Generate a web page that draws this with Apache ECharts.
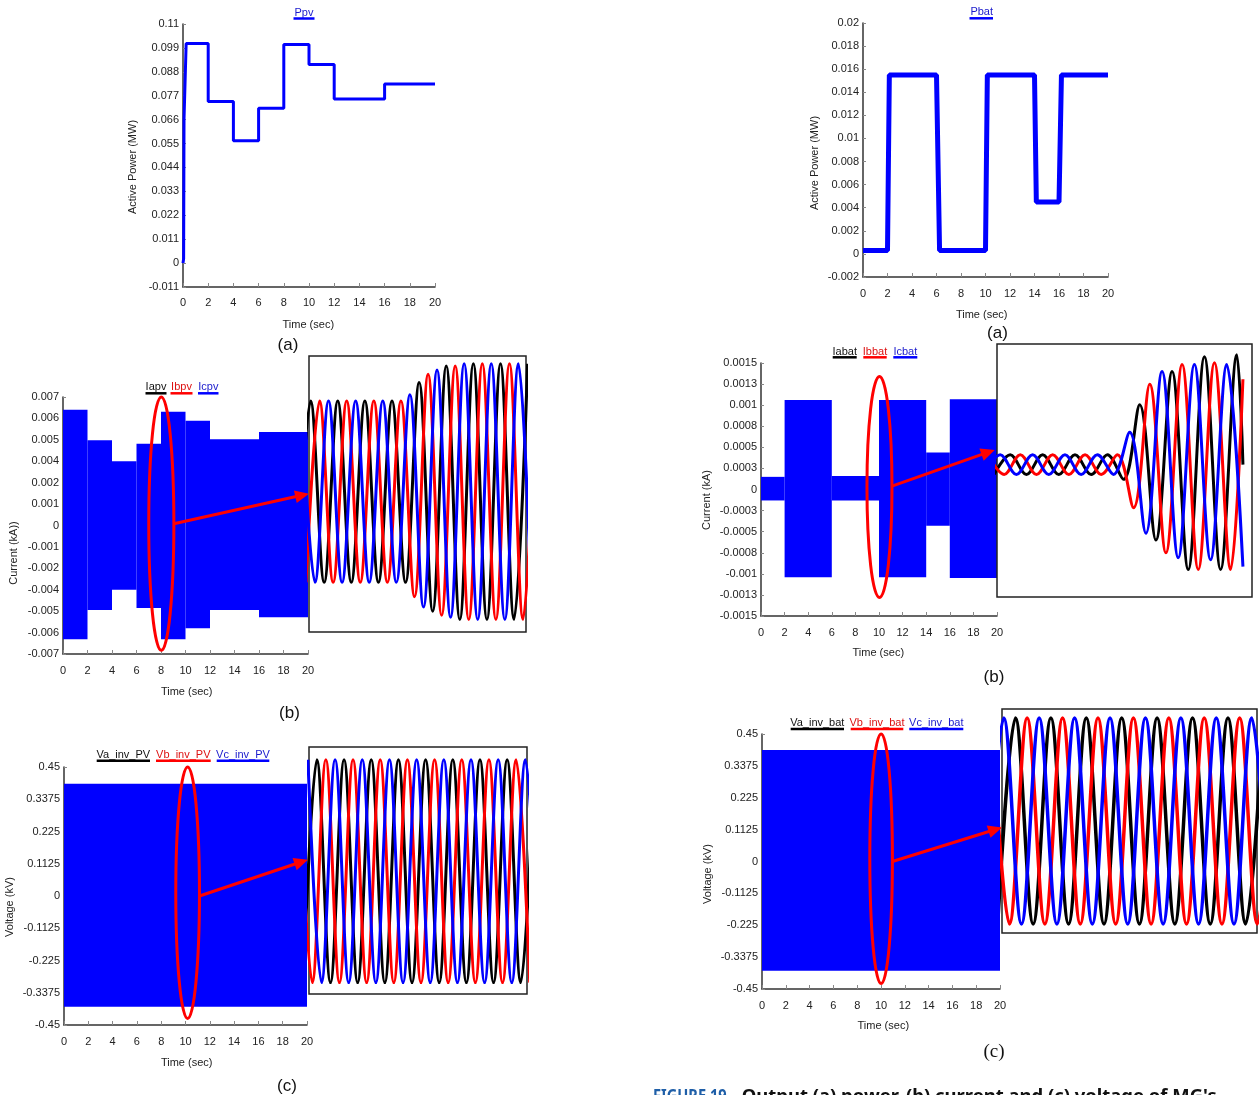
<!DOCTYPE html>
<html><head><meta charset="utf-8">
<script src="https://cdn.jsdelivr.net/npm/echarts@6/dist/echarts.min.js"></script>
<style>html,body{margin:0;padding:0;background:#fff;}#chart{width:1259px;height:1095px;}</style>
</head><body><div id="chart"></div>
<script>
// ================= DATA =================
const timeTickLabels = ['0','2','4','6','8','10','12','14','16','18','20'];

// (a) PV active power
const ppvTime  = [0, 0.05, 0.08, 0.25, 2, 2, 4, 4, 6, 6, 8, 8, 10, 10, 12, 12, 16, 16, 20];
const ppvValue = [0, 0.002, 0.066, 0.101, 0.101, 0.0744, 0.0744, 0.0563, 0.0563, 0.0712, 0.0712, 0.1006, 0.1006, 0.0914, 0.0914, 0.0755, 0.0755, 0.0824, 0.0824];
const ppvTickLabels = ['-0.011','0','0.011','0.022','0.033','0.044','0.055','0.066','0.077','0.088','0.099','0.11'];

// (a) battery active power
const pbatTime  = [0, 2, 2.15, 6, 6.25, 10, 10.15, 14, 14.15, 16, 16.2, 20];
const pbatValue = [0.0003, 0.0003, 0.0155, 0.0155, 0.0003, 0.0003, 0.0155, 0.0155, 0.0045, 0.0045, 0.0155, 0.0155];
const pbatTickLabels = ['-0.002','0','0.002','0.004','0.006','0.008','0.01','0.012','0.014','0.016','0.018','0.02'];

// (b) PV inverter currents: envelope of the dense 3-phase oscillation
const ipvEdges = [0, 2, 4, 6, 8, 10, 12, 16, 20];
const ipvUpper = [0.0063, 0.00465, 0.0035, 0.00445, 0.0062, 0.0057, 0.0047, 0.0051];
const ipvLower = [-0.0062, -0.0046, -0.0035, -0.0045, -0.0062, -0.0056, -0.0046, -0.0050];
const ipvTickLabels = ['-0.007','-0.006','-0.005','-0.004','-0.002','-0.001','0','0.001','0.002','0.004','0.005','0.006','0.007'];

// (b) battery inverter currents envelope
const ibatEdges = [0, 2, 6, 10, 14, 16, 20];
const ibatUpper = [0.00015, 0.00106, 0.00016, 0.00106, 0.00044, 0.00107];
const ibatLower = [-0.00013, -0.00104, -0.00013, -0.00104, -0.00043, -0.00105];
const ibatTickLabels = ['-0.0015','-0.0013','-0.001','-0.0008','-0.0005','-0.0003','0','0.0003','0.0005','0.0008','0.001','0.0013','0.0015'];

// (c) inverter voltages envelope
const vpvEdges = [0, 20];
const vpvUpper = [0.392];
const vpvLower = [-0.386];
const vbatEdges = [0, 20];
const vbatUpper = [0.3935];
const vbatLower = [-0.386];
const voltTickLabels = ['-0.45','-0.3375','-0.225','-0.1125','0','0.1125','0.225','0.3375','0.45'];

// Zoomed insets: successive extremum values (one per half cycle), x in cycles
// order of traces: [phase a (black), phase b (red), phase c (blue)]
const ipvZoomT0 = [-0.44, -0.11, -0.28];
const ipvZoomA = [-0.0044,0.0044,-0.0044,0.0044,-0.0044,0.0044,-0.0044,0.0044,-0.0044,0.0053,-0.0058,0.0061,-0.0062,0.0062,-0.0062,0.0062,-0.0062,0.0062];
const ipvZoomB = [-0.0044,0.0044,-0.0044,0.0044,-0.0044,0.0044,-0.0044,0.0044,-0.0051,0.0057,-0.0060,0.0061,-0.0062,0.0062,-0.0062,0.0062,-0.0062,0.0062];
const ipvZoomC = [0.0044,-0.0044,0.0044,-0.0044,0.0044,-0.0044,0.0044,-0.0044,0.0047,-0.0056,0.0059,-0.0061,0.0062,-0.0062,0.0062,-0.0062,0.0062,-0.0062];

const ibatZoomT0 = [-0.09, -0.28, -0.4];
const ibatZoomA = [-0.0001,0.0001,-0.0001,0.0001,-0.0001,0.0001,-0.0001,0.0001,-0.00015,0.00061,-0.00077,0.00095,-0.00107,0.0011,-0.00107,0.00112];
const ibatZoomB = [0.0001,-0.0001,0.0001,-0.0001,0.0001,-0.0001,0.0001,-0.0001,0.0001,-0.00044,0.00082,-0.0009,0.00102,-0.00107,0.00104,-0.00107];
const ibatZoomC = [-0.0001,0.0001,-0.0001,0.0001,-0.0001,0.0001,-0.0001,0.0001,-0.0001,0.00033,-0.0007,0.00095,-0.00095,0.00102,-0.00097,0.00102,-0.00104];
const ibatZoomEnd = [[7.6, 0], [7.6, 0.00087], null];

const vpvZoomT0 = [-0.21, -0.38, -0.04];
const vpvZoomA = [-0.39,0.39,-0.39,0.39,-0.39,0.39,-0.39,0.39,-0.39,0.39,-0.39,0.39,-0.39,0.39,-0.39,0.39,-0.39,0.39];
const vpvZoomB = [0.39,-0.39,0.39,-0.39,0.39,-0.39,0.39,-0.39,0.39,-0.39,0.39,-0.39,0.39,-0.39,0.39,-0.39,0.39,-0.39];
const vpvZoomC = [0.39,-0.39,0.39,-0.39,0.39,-0.39,0.39,-0.39,0.39,-0.39,0.39,-0.39,0.39,-0.39,0.39,-0.39,0.39,-0.39];

const vbatZoomT0 = [-0.12, -0.29, -0.45];
const vbatZoomA = [-0.39,0.39,-0.39,0.39,-0.39,0.39,-0.39,0.39,-0.39,0.39,-0.39,0.39,-0.39,0.39,-0.39,0.39];
const vbatZoomB = [0.39,-0.39,0.39,-0.39,0.39,-0.39,0.39,-0.39,0.39,-0.39,0.39,-0.39,0.39,-0.39,0.39,-0.39,0.39];
const vbatZoomC = [-0.39,0.39,-0.39,0.39,-0.39,0.39,-0.39,0.39,-0.39,0.39,-0.39,0.39,-0.39,0.39,-0.39,0.39,-0.39];

// ================= BUILD =================
const FONT = '"Liberation Sans", Arial, sans-serif';
const BLUE = '#0000ff', RED = '#ff0000', BLACK = '#000000';

const grids = [
  {left:183, top:24, width:252, height:263},   // 0 Ppv
  {left:863, top:23, width:245, height:254},   // 1 Pbat
  {left:63,  top:397, width:245, height:257},  // 2 I pv
  {left:761, top:363, width:236, height:253},  // 3 I bat
  {left:64,  top:767, width:243, height:258},  // 4 V pv
  {left:762, top:734, width:238, height:255},  // 5 V bat
  {left:309, top:356, width:217, height:276},  // 6 inset I pv
  {left:997, top:344, width:255, height:253},  // 7 inset I bat
  {left:309, top:747, width:218, height:247},  // 8 inset V pv
  {left:1002,top:709, width:255, height:224}   // 9 inset V bat
].map((g, i) => Object.assign({containLabel:false, outerBoundsMode:'none'}, g,
    i >= 6 ? {show:true, borderColor:'#222', borderWidth:1.5, backgroundColor:'#fff', z:3} : {show:false}));

function mainX(gi, margin) {
  return {gridIndex:gi, type:'value', min:0, max:20, interval:2,
    axisLine:{show:true, onZero:false, lineStyle:{color:'#333', width:1.5}},
    axisTick:{show:true, inside:true, length:4, lineStyle:{color:'#888', width:1}},
    axisLabel:{show:true, margin:margin, fontSize:11, color:'#222', fontFamily:FONT,
      showMinLabel:true, showMaxLabel:true, hideOverlap:false,
      formatter:(v) => timeTickLabels[Math.round(v / 2)]},
    splitLine:{show:false}};
}
function mainY(gi, min, max, interval, labels) {
  return {gridIndex:gi, type:'value', min:min, max:max, interval:interval,
    axisLine:{show:true, onZero:false, lineStyle:{color:'#333', width:1.5}},
    axisTick:{show:true, inside:true, length:3, lineStyle:{color:'#888', width:1}},
    axisLabel:{show:true, margin:4, fontSize:11, color:'#222', fontFamily:FONT,
      showMinLabel:true, showMaxLabel:true, hideOverlap:false,
      formatter:(v) => labels[Math.round((v - min) / interval)]},
    splitLine:{show:false}};
}
function insetAxis(gi, min, max) {
  return {gridIndex:gi, type:'value', min:min, max:max, show:false, splitLine:{show:false}};
}

const xAxes = [mainX(0,10), mainX(1,11), mainX(2,11), mainX(3,11), mainX(4,11), mainX(5,11),
  insetAxis(6,0,8), insetAxis(7,0,7.88), insetAxis(8,0,8.02), insetAxis(9,0,7.2)];
const yAxes = [
  mainY(0, -0.011, 0.11, 0.011, ppvTickLabels),
  mainY(1, -0.002, 0.02, 0.002, pbatTickLabels),
  mainY(2, -0.007, 0.007, 0.007/6, ipvTickLabels),
  mainY(3, -0.0015, 0.0015, 0.00025, ibatTickLabels),
  mainY(4, -0.45, 0.45, 0.1125, voltTickLabels),
  mainY(5, -0.45, 0.45, 0.1125, voltTickLabels),
  insetAxis(6, -0.00681, 0.00658),
  insetAxis(7, -0.00135, 0.00123),
  insetAxis(8, -0.43, 0.4345),
  insetAxis(9, -0.4245, 0.4237)
];

function zip(a, b) { return a.map((v, i) => [v, b[i]]); }
function bandData(edges, up, lo) { return up.map((u, i) => [edges[i], edges[i+1], u, lo[i]]); }
function bandSeries(gi, edges, up, lo) {
  return {type:'custom', xAxisIndex:gi, yAxisIndex:gi, silent:true, z:2,
    data:bandData(edges, up, lo), encode:{x:[0,1], y:[2,3]},
    renderItem:function(params, api) {
      const p0 = api.coord([api.value(0), api.value(2)]);
      const p1 = api.coord([api.value(1), api.value(3)]);
      return {type:'rect', shape:{x:p0[0], y:p0[1], width:p1[0]-p0[0], height:p1[1]-p0[1]},
              style:{fill:BLUE}};
    }};
}
function halfCycleTrace(t0, vals, end) {
  const d = vals.map((v, k) => [t0 + 0.5 * k, v]);
  if (end) d.push(end);
  return d;
}
function insetSeries(gi, t0s, traces, ends, width) {
  const colors = [BLACK, RED, BLUE];
  return traces.map((tr, i) => ({type:'line', xAxisIndex:gi, yAxisIndex:gi, silent:true, z:4,
    data:halfCycleTrace(t0s[i], tr, ends ? ends[i] : null), smooth:0.36, showSymbol:false, clip:true,
    lineStyle:{color:colors[i], width:width}}));
}

const series = [
  {type:'line', xAxisIndex:0, yAxisIndex:0, data:zip(ppvTime, ppvValue), showSymbol:false, silent:true,
   lineStyle:{color:BLUE, width:3}},
  {type:'line', xAxisIndex:1, yAxisIndex:1, data:zip(pbatTime, pbatValue), showSymbol:false, silent:true,
   lineStyle:{color:BLUE, width:5}},
  bandSeries(2, ipvEdges, ipvUpper, ipvLower),
  bandSeries(3, ibatEdges, ibatUpper, ibatLower),
  bandSeries(4, vpvEdges, vpvUpper, vpvLower),
  bandSeries(5, vbatEdges, vbatUpper, vbatLower),
  ...insetSeries(6, ipvZoomT0, [ipvZoomA, ipvZoomB, ipvZoomC], null, 3),
  ...insetSeries(7, ibatZoomT0, [ibatZoomA, ibatZoomB, ibatZoomC], ibatZoomEnd, 3),
  ...insetSeries(8, vpvZoomT0, [vpvZoomA, vpvZoomB, vpvZoomC], null, 3),
  ...insetSeries(9, vbatZoomT0, [vbatZoomA, vbatZoomB, vbatZoomC], null, 3.5)
];

const chart = echarts.init(document.getElementById('chart'), null, {renderer:'canvas'});
chart.setOption({animation:false, backgroundColor:'#fff', grid:grids, xAxis:xAxes, yAxis:yAxes, series:series});

// ================= TEXT & ANNOTATIONS =================
const TB = '#111', TR = '#dd1111', TBL = '#1a1acc';
const g = [];
function txt(s, x, y, opt) {
  opt = opt || {};
  g.push({type:'text', x:x, y:y, rotation:opt.rot || 0, z:50,
    style:{text:s, fill:opt.c || '#222', fontSize:opt.fs || 11, fontFamily:opt.ff || FONT,
      fontWeight:opt.fw || 'normal', align:'center', verticalAlign:'middle'}});
}
function ul(x1, x2, y, c, w) {
  g.push({type:'line', z:50, shape:{x1:x1, y1:y, x2:x2, y2:y}, style:{stroke:c, lineWidth:w || 2}});
}
// legends
txt('Ppv', 304, 12.5, {c:TBL}); ul(293.5, 314.5, 18.5, BLUE, 2.5);
txt('Pbat', 981.7, 12.2, {c:TBL}); ul(969.5, 993, 18.3, BLUE, 2.5);
txt('Iapv', 156, 386.7, {c:TB}); ul(145.5, 166.5, 393.3, BLACK, 2.5);
txt('Ibpv', 181.5, 386.7, {c:TR}); ul(170.5, 192.5, 393.3, RED, 2.5);
txt('Icpv', 208.3, 386.7, {c:TBL}); ul(198, 218.5, 393.3, BLUE, 2.5);
txt('Iabat', 844.7, 351.5, {c:TB}); ul(832.7, 856.7, 357.3, BLACK, 2.5);
txt('Ibbat', 875, 351.5, {c:TR}); ul(863.3, 886.7, 357.3, RED, 2.5);
txt('Icbat', 905.3, 351.5, {c:TBL}); ul(893.3, 917.3, 357.3, BLUE, 2.5);
txt('Va_inv_PV', 123.3, 755, {c:TB}); ul(96.7, 150, 760.7, BLACK, 2.5);
txt('Vb_inv_PV', 183.3, 755, {c:TR}); ul(156, 210.7, 760.7, RED, 2.5);
txt('Vc_inv_PV', 243, 755, {c:TBL}); ul(216.7, 269.3, 760.7, BLUE, 2.5);
txt('Va_inv_bat', 817.3, 723.3, {c:TB}); ul(790.7, 844, 729, BLACK, 2.5);
txt('Vb_inv_bat', 877, 723.3, {c:TR}); ul(850.7, 903.3, 729, RED, 2.5);
txt('Vc_inv_bat', 936.3, 723.3, {c:TBL}); ul(909.3, 963.3, 729, BLUE, 2.5);
// axis names
const R = Math.PI / 2;
txt('Active Power (MW)', 133.3, 167, {rot:R});
txt('Active Power (MW)', 815, 163, {rot:R});
txt('Current (kA))', 14, 553, {rot:R});
txt('Current (kA)', 707.3, 500, {rot:R});
txt('Voltage (kV)', 10, 907, {rot:R});
txt('Voltage (kV)', 708.3, 874, {rot:R});
txt('Time (sec)', 308.3, 325);
txt('Time (sec)', 981.7, 315);
txt('Time (sec)', 186.7, 691.7);
txt('Time (sec)', 878.3, 653.3);
txt('Time (sec)', 186.7, 1062.7);
txt('Time (sec)', 883.3, 1026);
// panel letters
txt('(a)', 288, 345, {fs:17, c:'#111'});
txt('(a)', 997.5, 333, {fs:17, c:'#111'});
txt('(b)', 289.5, 713, {fs:17, c:'#111'});
txt('(b)', 994, 677, {fs:17, c:'#111'});
txt('(c)', 287, 1086.5, {fs:17, c:'#111'});
txt('(c)', 994, 1052, {fs:19, c:'#111', ff:'"Liberation Serif", "Times New Roman", serif'});
// caption (cut at the bottom edge)
g.push({type:'text', x:653, y:1097, scaleX:0.86, z:50, style:{text:'FIGURE 19.',
  align:'left', verticalAlign:'middle', fontSize:17, fontWeight:'bold', fontFamily:'"Noto Sans", sans-serif', fill:'#1f5fa8'}});
g.push({type:'text', x:741.7, y:1097, scaleX:1.085, z:50, style:{text:'Output (a) power, (b) current and (c) voltage of MG\'s',
  align:'left', verticalAlign:'middle', fontSize:17, fontWeight:'bold', fontFamily:'"Noto Sans", sans-serif', fill:'#111'}});

// ellipses and arrows, given in data coordinates of the panels
const ellipses = [
  {grid:2, t0:7, t1:9.05, yLo:-0.0068, yHi:0.0070},
  {grid:3, t0:8.98, t1:11.1, yLo:-0.00128, yHi:0.00134},
  {grid:4, t0:9.2, t1:11.15, yLo:-0.427, yHi:0.45},
  {grid:5, t0:9.06, t1:10.96, yLo:-0.431, yHi:0.45}
];
const arrows = [
  {fg:2, from:[9.05, 0.0001], tg:6, to:[0, -0.0001]},
  {fg:3, from:[11.1, 0.00004], tg:7, to:[-0.07, 0.00015]},
  {fg:4, from:[11.15, 0.0], tg:8, to:[-0.04, 0.04]},
  {fg:5, from:[10.96, 0.0], tg:9, to:[0, -0.025]}
];
ellipses.forEach(e => {
  const p0 = chart.convertToPixel({gridIndex:e.grid}, [e.t0, e.yHi]);
  const p1 = chart.convertToPixel({gridIndex:e.grid}, [e.t1, e.yLo]);
  g.push({type:'ellipse', z:60, shape:{cx:(p0[0]+p1[0])/2, cy:(p0[1]+p1[1])/2,
    rx:Math.abs(p1[0]-p0[0])/2, ry:Math.abs(p1[1]-p0[1])/2},
    style:{fill:'none', stroke:RED, lineWidth:3}});
});
arrows.forEach(a => {
  const s = chart.convertToPixel({gridIndex:a.fg}, a.from);
  const t = chart.convertToPixel({gridIndex:a.tg}, a.to);
  const dx = t[0]-s[0], dy = t[1]-s[1], L = Math.hypot(dx, dy), ux = dx/L, uy = dy/L;
  const hl = 14, hw = 6.5;
  const bx = t[0]-ux*hl, by = t[1]-uy*hl;
  g.push({type:'line', z:60, shape:{x1:s[0], y1:s[1], x2:bx+ux*2, y2:by+uy*2}, style:{stroke:RED, lineWidth:3}});
  g.push({type:'polygon', z:60, shape:{points:[[t[0], t[1]], [bx - uy*hw, by + ux*hw], [bx + uy*hw, by - ux*hw]]},
    style:{fill:RED}});
});
chart.setOption({graphic:{elements:g}});
</script></body></html>
